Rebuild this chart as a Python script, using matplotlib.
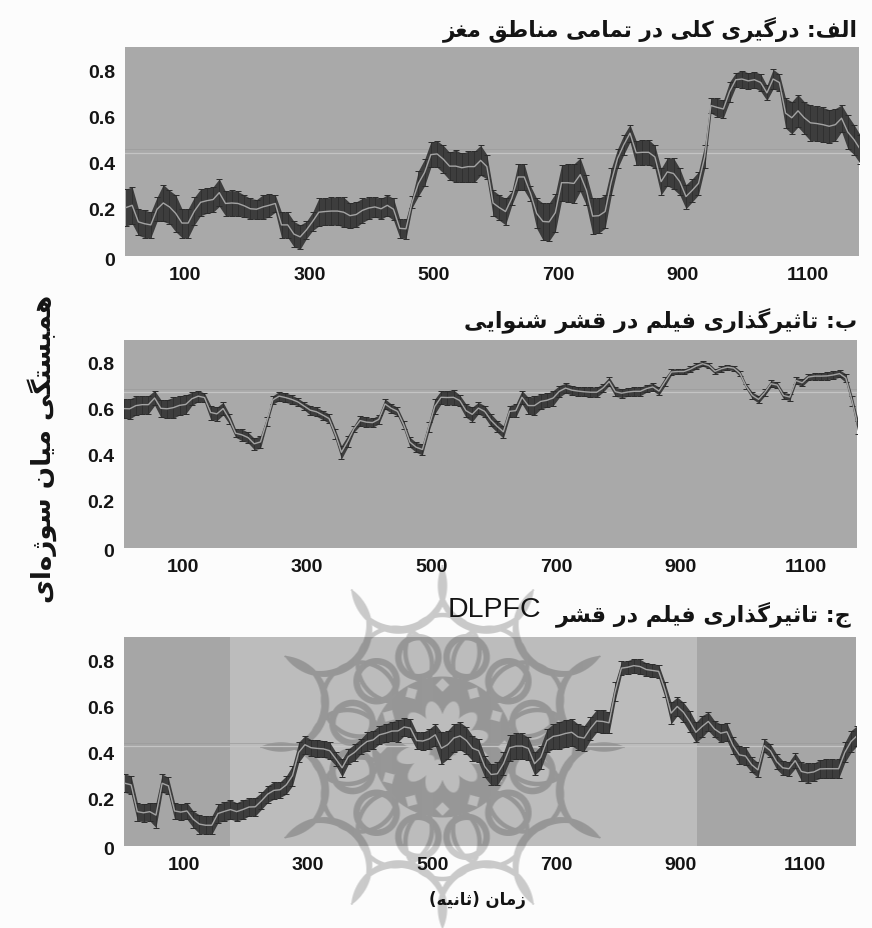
#!/bin/python3
import numpy as np
import matplotlib
matplotlib.use('Agg')
import matplotlib.pyplot as plt
from matplotlib.transforms import ScaledTranslation

W, H = 872, 929

time_s = np.arange(5, 1195, 10)

a_upper = [.29,.30,.205,.20,.19,.255,.31,.285,.265,.205,.205,.255,.29,.295,.30,.335,.28,.285,.28,.265,.25,.245,.265,.27,.265,.19,.19,.15,.135,.15,
           .19,.25,.25,.255,.255,.255,.23,.235,.25,.255,.255,.25,.265,.25,.16,.16,.26,.37,.42,.495,.50,.48,.45,.46,.445,.455,.455,.48,.44,.285,
           .265,.25,.28,.40,.40,.305,.25,.23,.23,.27,.395,.40,.40,.425,.35,.25,.25,.265,.38,.465,.525,.57,.50,.505,.505,.48,.38,.425,.425,.38,
           .31,.335,.365,.48,.685,.685,.675,.755,.795,.805,.795,.80,.79,.74,.81,.79,.685,.67,.70,.67,.655,.65,.645,.635,.64,.655,.61,.57,.525]
a_lower = [.13,.14,.09,.08,.08,.15,.15,.14,.105,.08,.08,.135,.175,.185,.19,.215,.175,.175,.175,.17,.16,.16,.16,.17,.19,.08,.08,.04,.03,.075,
           .11,.13,.135,.135,.135,.125,.12,.125,.145,.16,.17,.16,.175,.155,.08,.075,.21,.26,.305,.385,.385,.36,.33,.32,.32,.32,.32,.35,.335,.175,
           .155,.135,.22,.285,.285,.24,.12,.07,.065,.105,.24,.235,.23,.28,.22,.095,.10,.12,.265,.38,.44,.495,.395,.395,.395,.38,.265,.305,.29,.265,
           .205,.235,.265,.38,.62,.605,.60,.67,.735,.73,.725,.73,.715,.675,.725,.715,.555,.53,.56,.53,.50,.50,.495,.49,.50,.54,.465,.44,.40]
a_mean = [.21,.22,.148,.14,.135,.203,.23,.213,.185,.143,.143,.195,.233,.24,.245,.275,.228,.23,.228,.218,.205,.203,.213,.22,.228,.135,.135,.095,.083,.113,
          .15,.19,.193,.195,.195,.19,.175,.18,.198,.208,.213,.205,.22,.203,.12,.118,.235,.315,.363,.44,.443,.42,.39,.39,.383,.388,.388,.415,.388,.23,
          .21,.193,.25,.343,.343,.273,.185,.15,.148,.188,.318,.318,.315,.353,.285,.173,.175,.193,.323,.423,.483,.533,.448,.45,.45,.43,.323,.365,.358,.323,
          .258,.285,.315,.43,.653,.645,.638,.713,.765,.768,.76,.765,.753,.708,.768,.753,.62,.60,.63,.60,.578,.575,.57,.563,.57,.598,.538,.505,.463]

b_upper = [.648,.648,.66,.662,.662,.684,.645,.645,.655,.662,.665,.677,.684,.674,.619,.612,.633,.583,.517,.517,.503,.477,.488,.568,.662,.68,.674,.665,.651,.633,
           .619,.612,.597,.583,.517,.445,.488,.532,.575,.568,.564,.578,.648,.626,.612,.554,.481,.459,.452,.546,.648,.684,.684,.687,.665,.626,.612,.633,.619,.583,
           .554,.532,.619,.626,.684,.655,.659,.67,.672,.684,.706,.716,.706,.701,.699,.699,.699,.713,.742,.699,.691,.696,.699,.699,.709,.716,.699,.742,.778,.778,
           .778,.79,.804,.812,.804,.778,.79,.796,.793,.771,.713,.677,.662,.69,.728,.72,.677,.67,.742,.733,.757,.761,.761,.764,.768,.774,.757,.662,.554]
b_lower = [.564,.561,.578,.583,.583,.62,.568,.564,.564,.578,.583,.62,.636,.633,.558,.554,.578,.539,.481,.467,.457,.428,.433,.532,.626,.64,.633,.626,.619,.601,
           .578,.572,.558,.543,.474,.387,.438,.503,.532,.525,.525,.539,.604,.587,.575,.517,.438,.416,.404,.503,.583,.626,.623,.623,.616,.568,.549,.583,.568,.529,
           .503,.477,.568,.568,.626,.583,.578,.604,.612,.619,.655,.674,.665,.662,.659,.655,.655,.677,.706,.659,.654,.659,.662,.662,.677,.684,.665,.706,.752,.755,
           .755,.764,.778,.79,.781,.757,.767,.775,.771,.746,.691,.648,.63,.662,.699,.696,.648,.641,.713,.703,.728,.732,.732,.732,.735,.742,.72,.619,.496]
b_mean = [.606,.605,.619,.623,.623,.652,.607,.605,.61,.62,.624,.649,.66,.654,.589,.583,.606,.561,.499,.492,.48,.453,.461,.55,.644,.66,.654,.646,.635,.617,
          .599,.592,.578,.563,.496,.416,.463,.518,.554,.547,.545,.559,.626,.607,.594,.536,.46,.438,.428,.525,.616,.655,.654,.655,.641,.597,.581,.608,.594,.556,
          .529,.505,.594,.597,.655,.619,.619,.637,.642,.652,.681,.695,.686,.682,.679,.677,.677,.695,.724,.679,.673,.678,.681,.681,.693,.70,.682,.724,.765,.767,
          .767,.777,.791,.801,.793,.768,.779,.786,.782,.759,.702,.663,.646,.676,.714,.708,.663,.656,.728,.718,.743,.747,.747,.748,.752,.758,.739,.641,.525]

c_upper = [.312,.304,.188,.181,.188,.188,.312,.297,.188,.181,.188,.152,.135,.13,.13,.181,.191,.20,.188,.20,.207,.21,.232,.261,.278,.278,.304,.348,.449,.478,
           .461,.461,.457,.449,.406,.377,.42,.442,.464,.493,.50,.522,.529,.539,.546,.554,.551,.493,.493,.507,.529,.493,.50,.529,.536,.517,.478,.464,.391,.355,
           .362,.406,.481,.488,.488,.471,.406,.435,.507,.529,.539,.548,.551,.529,.522,.558,.591,.591,.58,.71,.80,.804,.812,.809,.794,.79,.786,.71,.623,.645,
           .623,.587,.536,.565,.58,.543,.529,.533,.471,.435,.428,.384,.362,.464,.442,.399,.37,.365,.403,.362,.358,.359,.374,.377,.377,.377,.449,.50,.522]
c_lower = [.232,.225,.109,.106,.109,.08,.232,.225,.116,.113,.116,.08,.054,.051,.051,.101,.109,.116,.109,.116,.13,.13,.159,.188,.203,.21,.225,.261,.362,.399,
           .391,.384,.384,.377,.348,.30,.355,.37,.399,.413,.42,.442,.449,.457,.452,.478,.471,.42,.417,.42,.435,.355,.377,.406,.417,.399,.37,.362,.297,.264,
           .264,.307,.37,.377,.377,.374,.307,.333,.406,.42,.42,.428,.435,.416,.413,.459,.493,.488,.488,.63,.742,.746,.751,.746,.736,.732,.728,.645,.529,.565,
           .536,.493,.449,.471,.50,.471,.449,.457,.399,.355,.351,.319,.297,.406,.384,.333,.307,.304,.336,.283,.275,.283,.293,.293,.293,.293,.362,.406,.435]
c_mean = [.272,.265,.149,.144,.149,.134,.272,.261,.152,.147,.152,.116,.095,.09,.09,.141,.15,.158,.149,.158,.169,.17,.196,.225,.241,.244,.265,.305,.406,.439,
          .426,.423,.421,.413,.377,.339,.388,.406,.432,.453,.46,.482,.489,.498,.499,.516,.511,.457,.455,.464,.482,.424,.439,.468,.477,.458,.424,.413,.344,.31,
          .313,.357,.426,.433,.433,.423,.357,.384,.457,.475,.48,.488,.493,.473,.468,.509,.542,.54,.534,.67,.771,.775,.782,.778,.765,.761,.757,.678,.576,.605,
          .58,.54,.493,.518,.54,.507,.489,.495,.435,.395,.39,.352,.33,.435,.413,.366,.339,.335,.37,.323,.317,.321,.334,.335,.335,.335,.406,.453,.479]

y_ticks = [0, 0.2, 0.4, 0.6, 0.8]
y_labels = ['0', '0.2', '0.4', '0.6', '0.8']
x_ticks = [100, 300, 500, 700, 900, 1100]

title_a = 'الف: درگیری کلی در تمامی مناطق مغز'
title_b = 'ب: تاثیرگذاری فیلم در قشر شنوایی'
title_c = 'ج: تاثیرگذاری فیلم در قشر'
y_title = 'همبستگی میان سوژه\u200cای'
x_title = 'زمان (ثانیه)'

# isolated, final, initial, medial
FORMS = {
    'ا': 'ﺍﺎ', 'د': 'ﺩﺪ', 'ذ': 'ﺫﺬ', 'ر': 'ﺭﺮ', 'ز': 'ﺯﺰ', 'و': 'ﻭﻮ',
    'ژ': '\ufb8a\ufb8b',
    'ب': 'ﺏﺐﺑﺒ', 'پ': '\ufb56\ufb57\ufb58\ufb59', 'ت': 'ﺕﺖﺗﺘ', 'ث': 'ﺙﺚﺛﺜ',
    'ج': 'ﺝﺞﺟﺠ', 'س': 'ﺱﺲﺳﺴ', 'ش': 'ﺵﺶﺷﺸ', 'ط': 'ﻁﻂﻃﻄ', 'غ': 'ﻍﻎﻏﻐ',
    'ف': 'ﻑﻒﻓﻔ', 'ق': 'ﻕﻖﻗﻘ', 'ک': '\ufb8e\ufb8f\ufb90\ufb91',
    'گ': '\ufb92\ufb93\ufb94\ufb95', 'ل': 'ﻝﻞﻟﻠ', 'م': 'ﻡﻢﻣﻤ', 'ن': 'ﻥﻦﻧﻨ',
    'ه': 'ﻩﻪﻫﻬ', 'ی': '\ufbfc\ufbfd\ufbfe\ufbff',
}


def shape(text):
    # matplotlib has no arabic shaping, so pick the joined forms by hand
    out = []
    for i, ch in enumerate(text):
        if ch not in FORMS:
            if ch != '\u200c':
                out.append({'(': ')', ')': '('}.get(ch, ch))
            continue
        prev = text[i - 1] if i > 0 else ''
        nxt = text[i + 1] if i + 1 < len(text) else ''
        join_prev = prev in FORMS and len(FORMS[prev]) == 4
        join_next = nxt in FORMS and len(FORMS[ch]) == 4
        f = FORMS[ch]
        if join_prev and join_next:
            out.append(f[3])
        elif join_next:
            out.append(f[2])
        elif join_prev:
            out.append(f[1])
        else:
            out.append(f[0])
    return ''.join(reversed(out))


def rosette(cx, cy):
    # the faint ornament behind the lower panel, as a coverage mask
    yy, xx = np.mgrid[0:H, 0:W] + 0.5
    dx, dy = xx - cx, yy - cy
    rho = np.hypot(dx, dy)
    m = np.zeros((H, W))

    def ring(r_c, ang, radius, width):
        d = np.hypot(dx - r_c * np.cos(ang), dy - r_c * np.sin(ang))
        return np.clip(width / 2 - np.abs(d - radius) + 0.5, 0, 1)

    for k in range(12):
        a1 = np.radians(15 + 30 * k)
        a2 = np.radians(45 + 30 * k)
        a0 = np.radians(30 * k)
        proj = dx * np.cos(a1) + dy * np.sin(a1)
        taper = np.clip(8 * (1 - 0.85 * (rho - 123) / 60), 1.2, 8)
        d = np.hypot(dx - 170 * np.cos(a1), dy - 170 * np.sin(a1))
        d2 = np.hypot(dx - 170 * np.cos(a2), dy - 170 * np.sin(a2))
        m = np.maximum(m, (proj < 176) * (rho < 188) * np.clip(taper / 2 - np.abs(d - 47) + 0.5, 0, 1))
        # the spike where two neighbouring arcs meet is solid
        m = np.maximum(m, np.clip(47.5 - d, 0, 1) * np.clip(47.5 - d2, 0, 1))
        m = np.maximum(m, ring(93, a1, 20, 6.5))
        m = np.maximum(m, ring(95, a0, 37, 4.5) * (rho > 70))
    # dark middle with light petals
    core = np.clip(71 - rho, 0, 1)
    for k in range(12):
        a1 = np.radians(15 + 30 * k)
        a0 = np.radians(30 * k)
        u = (dx * np.cos(a1) + dy * np.sin(a1) - 30) / 16
        v = (-dx * np.sin(a1) + dy * np.cos(a1)) / 8
        core = core * np.clip((u ** 2 + v ** 2 - 1) * 4, 0, 1)
        u2 = (dx * np.cos(a0) + dy * np.sin(a0) - 62) / 6
        v2 = (-dx * np.sin(a0) + dy * np.cos(a0)) / 6
        core = core * np.clip((np.abs(u2) + np.abs(v2) - 1) * 4, 0, 1)
    return np.maximum(m, core)


def px_axes(left, top, right, bottom, **kw):
    return fig.add_axes([left / W, 1 - bottom / H, (right - left) / W, (bottom - top) / H], **kw)


def panel(box, xlim, ymax, mean, upper, lower, refline, face):
    ax = px_axes(*box, facecolor=face)
    mean, upper, lower = np.array(mean), np.array(upper), np.array(lower)
    ax.axhline(refline, color='#c4c4c4', lw=0.9, zorder=1)
    ax.axhline(refline + 0.014, color='#9b9b9b', lw=0.5, zorder=1)
    ax.fill_between(time_s, lower, upper, color='#3d3d3d', lw=0, zorder=2)
    ax.errorbar(time_s, mean, yerr=[mean - lower, upper - mean], fmt='none', ecolor='#2b2b2b',
                elinewidth=0.5, capsize=2.1, capthick=0.7, zorder=3)
    ax.plot(time_s, mean, color='#a3a3a3', lw=1.0, zorder=4)
    ax.set_xlim(*xlim)
    ax.set_ylim(0, ymax)
    ax.set_xticks(x_ticks)
    ax.set_yticks(y_ticks)
    ax.set_yticklabels(y_labels)
    ax.tick_params(length=0, pad=7, labelsize=14, labelcolor='#141414')
    for lab in ax.get_xticklabels() + ax.get_yticklabels():
        lab.set_fontfamily('Liberation Sans')
        lab.set_fontweight('bold')
    # printed labels sit a little above their real height on the original
    for lab, shift in zip(ax.get_yticklabels(), [-2, 1.4, 1.3, 1.3, 1.3]):
        lab.set_transform(lab.get_transform() + ScaledTranslation(0, shift / 100, fig.dpi_scale_trans))
    for s in ax.spines.values():
        s.set_visible(False)
    return ax


def fa_text(x, y, s, size, ha='right', rotation=0):
    fig.text(x / W, 1 - y / H, shape(s), fontsize=size, fontweight='bold', family='DejaVu Sans',
             ha=ha, va='center', rotation=rotation, color='#141414')


fig = plt.figure(figsize=(W / 100, H / 100), dpi=100, facecolor='#fcfcfc')

# background layer: lighter middle of panel C and the ornament
bg = fig.add_axes([0, 0, 1, 1], zorder=-1)
bg.set_xlim(0, W)
bg.set_ylim(H, 0)
bg.axis('off')
bg.fill_between([124, 230], 638, 847, color='#a6a6a6', lw=0)
bg.fill_between([230, 697], 638, 847, color='#bcbcbc', lw=0)
bg.fill_between([697, 856], 638, 847, color='#a6a6a6', lw=0)
mask = rosette(442, 748)
rgba = np.zeros((H, W, 4))
rgba[..., 3] = mask * 0.2
bg.imshow(rgba, extent=(0, W, H, 0), aspect='auto', interpolation='bilinear', zorder=2)

panel((125, 48, 859, 257), (3.5, 1183), 0.907, a_mean, a_upper, a_lower, 0.449, '#a9a9a9')
panel((124, 341, 857, 549), (5.8, 1183), 0.904, b_mean, b_upper, b_lower, 0.677, '#a9a9a9')
panel((124, 638, 856, 847), (3.5, 1183), 0.906, c_mean, c_upper, c_lower, 0.432, 'none')

fa_text(858, 29, title_a, 15.6)
fa_text(857, 320, title_b, 16)
fa_text(852, 614, title_c, 16)
fig.text(541 / W, 1 - 610 / H, 'DLPFC', fontsize=20.5, family='Liberation Sans', ha='right', va='center', color='#141414')
fa_text(42, 449, y_title, 18.8, ha='center', rotation=90)
fa_text(477, 900, x_title, 12, ha='center')

fig.savefig('out.png', dpi=100, facecolor=fig.get_facecolor())
